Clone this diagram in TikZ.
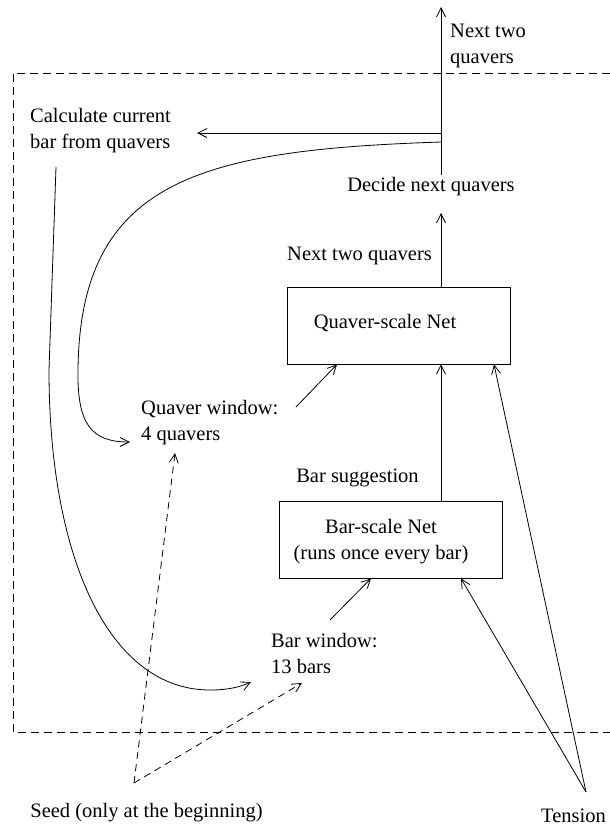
\documentclass[tikz,border=0pt]{standalone}
\usepackage{fontspec}
\setmainfont{Liberation Serif}
\usetikzlibrary{arrows.meta}
\tikzset{
  lbl/.style={inner sep=0pt, font=\fontsize{20.5pt}{26pt}\selectfont, align=left},
  netbox/.style={draw, line width=0.8pt, inner sep=0pt, minimum width=223pt, minimum height=77pt},
  conn/.style={line width=0.8pt, -{Straight Barb[length=9pt,width=9pt,line width=0.8pt]}},
  plain/.style={line width=0.8pt},
  dconn/.style={conn, dash pattern=on 7pt off 5pt},
  frame/.style={line width=0.8pt, dash pattern=on 8pt off 5pt}
}
\begin{document}
\begin{tikzpicture}[x=1pt,y=-1pt]
\useasboundingbox (0,0) rectangle (610,827);
% frame
\draw[frame] (610,73) -- (13,73) -- (13,732) -- (610,732);

% text nodes
\node[lbl, anchor=west] (out) at (450,46) {Next two\\quavers};
\node[lbl, anchor=west] (calc) at (30,131) {Calculate current\\bar from quavers};
\node[lbl] (decide) at (431,187) {Decide next quavers};
\node[lbl] (nexttwo) at (359.5,256) {Next two quavers};
\node[lbl, anchor=west] (qwin) at (141,422.5) {Quaver window:\\4 quavers};
\node[lbl] (sugg) at (357.5,478) {Bar suggestion};
\node[lbl, anchor=west] (bwin) at (271,653.5) {Bar window:\\13 bars};
\node[lbl] (seed) at (146.5,813) {Seed (only at the beginning)};
\node[lbl, anchor=east] (tension) at (606,816) {Tension};

% boxes
\node[netbox] (qbox) at (398.5,325.5) {};
\node[lbl] (qtext) at (385,323) {Quaver-scale Net};
\node[netbox] (bbox) at (390.5,539.5) {};
\node[lbl, align=center] (btext) at (381,541.5) {Bar-scale Net\\(runs once every bar)};

% named points
\coordinate (xa) at (441,0);
\coordinate (topout) at (441,7);
\coordinate (dtop) at (441,175);
\coordinate (dbot) at (441,213);
\coordinate (jleft) at (441,133);
\coordinate (jcurve) at (441,142);
\coordinate (calcin) at (197,133);
\coordinate (calcout) at (56,167);
\coordinate (qwinin) at (130,442);
\coordinate (qwinout) at (296,407);
\coordinate (qwinseed) at (175,453);
\coordinate (bwinin) at (251,682);
\coordinate (bwinseed) at (302,683);
\coordinate (bwinout) at (330,620);
\coordinate (seedv) at (134,783);
\coordinate (tensv) at (586,792);

% connectors
\draw[conn] (dtop) -- (topout);
\draw[conn] (jleft) -- (calcin);
\draw[conn] (jcurve) .. controls (200,150) and (80,180) .. (78,370)
  .. controls (77,425) and (92,442) .. (qwinin);
\draw[conn] (calcout) -- (49,370) .. controls (49,560) and (110,690) .. (210,690)
  .. controls (228,690) and (240,687) .. (bwinin);
\draw[conn] (qbox.north -| xa) -- (dbot);
\draw[conn] (bbox.north -| xa) -- (qbox.south -| xa);
\draw[conn] (qwinout) -- (qbox.south -| 337,0);
\draw[conn] (bwinout) -- (bbox.south -| 371,0);
\draw[dconn] (seedv) -- (qwinseed);
\draw[dconn] (seedv) -- (bwinseed);
\draw[conn] (tensv) -- (bbox.south -| 461,0);
\draw[conn] (tensv) -- (qbox.south -| 494,0);
\end{tikzpicture}
\end{document}
